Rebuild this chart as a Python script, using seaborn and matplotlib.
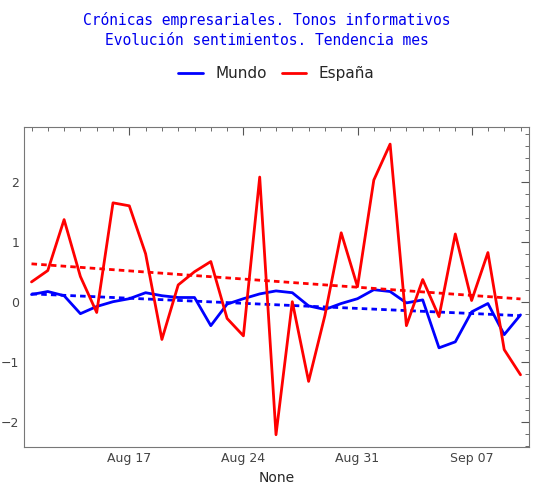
import numpy as np
import pandas as pd
import matplotlib
matplotlib.use('Agg')
import matplotlib.pyplot as plt
import matplotlib.dates as mdates
from matplotlib.ticker import MultipleLocator
import seaborn as sns

dates = pd.date_range('2020-08-11', '2020-09-10', freq='D')
mundo = [0.12, 0.17, 0.10, -0.20, -0.08, 0.00, 0.05, 0.15, 0.10, 0.07, 0.07, -0.40,
         -0.04, 0.05, 0.13, 0.18, 0.15, -0.07, -0.13, -0.03, 0.05, 0.20, 0.17, -0.02,
         0.03, -0.77, -0.67, -0.17, -0.03, -0.55, -0.22]
espana = [0.33, 0.52, 1.37, 0.42, -0.18, 1.65, 1.60, 0.80, -0.63, 0.28, 0.50, 0.67,
          -0.28, -0.57, 2.08, -2.22, 0.00, -1.33, -0.23, 1.15, 0.25, 2.03, 2.63, -0.40,
          0.37, -0.25, 1.13, 0.02, 0.82, -0.80, -1.22]

sns.set_style('white')
fig, ax = plt.subplots(figsize=(5.34, 4.97), dpi=100)
fig.subplots_adjust(left=0.045, right=0.99, top=0.745, bottom=0.1)

t = np.arange(len(dates))
for vals, col, lab in [(mundo, '#0000ff', 'Mundo'), (espana, '#ff0000', 'España')]:
    sns.lineplot(x=dates, y=vals, ax=ax, color=col, lw=2, label=lab)
    k, b = np.polyfit(t, vals, 1)
    ax.plot(dates, k * t + b, color=col, lw=2, ls=(0, (2, 1.5)))

ax.set_xlim(pd.Timestamp('2020-08-10 13:00'), pd.Timestamp('2020-09-10 12:00'))
ax.set_ylim(-2.43, 2.92)
ax.xaxis.set_major_locator(mdates.DayLocator(bymonthday=[17, 24, 31, 7]))
ax.xaxis.set_major_formatter(mdates.DateFormatter('%b %d'))
ax.xaxis.set_minor_locator(mdates.DayLocator())
ax.yaxis.set_major_locator(MultipleLocator(1))
ax.yaxis.set_minor_locator(MultipleLocator(0.2))
ax.yaxis.set_major_formatter(lambda v, p: f'{v:.0f}'.replace('-', '−'))
ax.tick_params(which='both', direction='in', top=True, right=True, colors='#555555',
               labelcolor='#444444', labelsize=9)
ax.tick_params(which='major', length=6)
ax.tick_params(which='minor', length=3)
for s in ax.spines.values():
    s.set_color('#777777')

ax.legend(loc='lower center', bbox_to_anchor=(0.5, 1.1), ncol=2, frameon=False,
          fontsize=11, handlelength=1.6, columnspacing=1)
fig.text(0.5, 0.975, 'Crónicas empresariales. Tonos informativos\nEvolución sentimientos. Tendencia mes',
         ha='center', va='top', color='#0000ee', family='DejaVu Sans Mono', fontsize=10.5,
         linespacing=1.35)

fig.savefig('out.png', dpi=100)
